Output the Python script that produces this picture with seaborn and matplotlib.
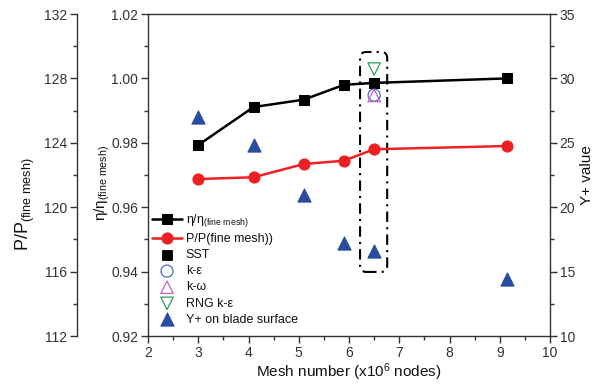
import matplotlib
matplotlib.use('Agg')
import matplotlib.pyplot as plt
import seaborn as sns
import pandas as pd
from matplotlib.ticker import MultipleLocator, FormatStrFormatter
from matplotlib.patches import FancyBboxPatch

# ---------------- data ----------------
mesh = [3.0, 4.1, 5.1, 5.9, 6.5, 9.15]
eta_ratio = [0.9793, 0.9911, 0.9934, 0.9980, 0.9986, 1.0000]
p_ratio = [121.75, 121.86, 122.68, 122.89, 123.60, 123.80]
yplus = [27.0, 24.8, 20.95, 17.2, 16.6, 14.4]

model_x = 6.5
sst_eta = [0.9986]
ke_eta = [0.9948]
kw_eta = [0.9947]
rng_eta = [1.0029]

box_x = (6.22, 6.76)
box_y = (0.9399, 1.0082)

# ---------------- style ----------------
sns.set_style('ticks')
plt.rcParams['font.family'] = ['Liberation Sans', 'DejaVu Sans']
plt.rcParams['mathtext.fontset'] = 'custom'
plt.rcParams['mathtext.rm'] = 'Liberation Sans'
plt.rcParams['mathtext.it'] = 'Liberation Sans:italic'
spine_c = '#333333'
for k in ['axes.edgecolor', 'xtick.color', 'ytick.color']:
    plt.rcParams[k] = spine_c
plt.rcParams['text.color'] = '#111111'
plt.rcParams['axes.labelcolor'] = '#111111'

fig = plt.figure(figsize=(5.98, 3.85), dpi=100)
ax = fig.add_axes([148/598, 1-336/385, 402/598, 322/385])
ax2 = ax.twinx()
ax3 = ax.twinx()

red = '#ee2024'
blue = '#2a4d9f'

df = pd.DataFrame({'mesh': mesh, 'eta': eta_ratio, 'p': p_ratio, 'yplus': yplus})

sns.lineplot(data=df, x='mesh', y='eta', ax=ax, color='black', marker='s',
             markersize=7, markeredgecolor='black', lw=1.8,
             label=r'$\mathregular{\eta/\eta_{(fine\ mesh)}}$', legend=False)
sns.lineplot(data=df, x='mesh', y='p', ax=ax2, color=red, marker='o',
             markersize=8, markeredgecolor=red, lw=1.8,
             label='P/P(fine mesh))', legend=False)
sns.scatterplot(x=[model_x], y=sst_eta, ax=ax, marker='s', s=55, color='black',
                edgecolor='black', label='SST', legend=False, zorder=3)
sns.scatterplot(x=[model_x], y=ke_eta, ax=ax, marker='o', s=75, color='#4a6cc0',
                facecolor='none', edgecolor='#4a6cc0', linewidth=0.9,
                label='k-ε', legend=False, zorder=3)
sns.scatterplot(x=[model_x], y=kw_eta, ax=ax, marker='^', s=80, color='#c060c8',
                facecolor='none', edgecolor='#c060c8', linewidth=0.9,
                label='k-ω', legend=False, zorder=3)
sns.scatterplot(x=[model_x], y=rng_eta, ax=ax, marker='v', s=80, color='#2e9a5a',
                facecolor='none', edgecolor='#2e9a5a', linewidth=0.9,
                label='RNG k-ε', legend=False, zorder=3)
sns.scatterplot(data=df, x='mesh', y='yplus', ax=ax3, marker='^', s=90, color=blue,
                edgecolor=blue, label='Y+ on blade surface', legend=False)

# ---------------- axes ----------------
ax.set_xlim(2, 10)
ax.set_ylim(0.92, 1.02)
ax2.set_ylim(112, 132)
ax3.set_ylim(10, 35)

ax.xaxis.set_major_locator(MultipleLocator(1))
ax.xaxis.set_minor_locator(MultipleLocator(0.5))
ax.yaxis.set_major_locator(MultipleLocator(0.02))
ax.yaxis.set_minor_locator(MultipleLocator(0.01))
ax.yaxis.set_major_formatter(FormatStrFormatter('%.2f'))
ax2.yaxis.set_major_locator(MultipleLocator(4))
ax2.yaxis.set_minor_locator(MultipleLocator(2))
ax3.yaxis.set_major_locator(MultipleLocator(5))
ax3.yaxis.set_minor_locator(MultipleLocator(2.5))

# outer left P axis
p_spine = (77 - 148) / 402
ax2.spines['left'].set_position(('axes', p_spine))
ax2.spines['left'].set_visible(True)
ax2.yaxis.set_ticks_position('left')
ax2.yaxis.set_label_position('left')
for s in ['right', 'top', 'bottom']:
    ax2.spines[s].set_visible(False)
for s in ['left', 'top', 'bottom']:
    ax3.spines[s].set_visible(False)
ax3.spines['right'].set_visible(True)

for a in (ax, ax2, ax3):
    for s in a.spines.values():
        s.set_linewidth(1.0)
        s.set_color(spine_c)
    a.tick_params(which='major', length=5, width=1, labelsize=10, direction='out', pad=2)
    a.tick_params(which='minor', length=3, width=1, direction='out')
ax.spines['top'].set_visible(True)
ax.spines['right'].set_visible(False)
ax.xaxis.set_ticks_position('bottom')

ax.set_xlabel(r'Mesh number (x10$^{\mathregular{6}}$ nodes)', fontsize=11, labelpad=1)
ax.set_ylabel(r'$\mathregular{\eta/\eta_{(fine\ mesh)}}$', fontsize=11)
ax2.set_ylabel(r'P/P$_{\mathregular{(fine\ mesh)}}$', fontsize=13)
ax3.set_ylabel('Y+ value', fontsize=11, labelpad=3)
ax.yaxis.set_label_coords((112 - 148) / 402, 0.475)
ax2.yaxis.set_label_coords((37 - 148) / 402, 0.41)

# dash-dot rounded box around the turbulence-model comparison
px_per_x = 402 / (10 - 2)
px_per_y = 322 / (1.02 - 0.92)
box = FancyBboxPatch((box_x[0], box_y[0]), box_x[1]-box_x[0], box_y[1]-box_y[0],
                     boxstyle='round,pad=0,rounding_size=0.12',
                     mutation_aspect=px_per_x/px_per_y,
                     fill=False, ec='black', lw=1.5, ls=(0, (5, 2.5, 1, 2.5)),
                     transform=ax.transData, zorder=2)
ax.add_patch(box)

# legend
h1, l1 = ax.get_legend_handles_labels()
h2, l2 = ax2.get_legend_handles_labels()
h3, l3 = ax3.get_legend_handles_labels()
handles = [h1[0], h2[0]] + h1[1:] + h3
labels = [l1[0], l2[0]] + l1[1:] + l3
ax3.legend(handles, labels, loc='upper left', bbox_to_anchor=(152/598, 1-212/385),
           bbox_transform=fig.transFigure, frameon=False, fontsize=9,
           handlelength=2.4, handletextpad=0.3, labelspacing=0.33,
           borderpad=0, borderaxespad=0)

fig.savefig('out.png', dpi=100)
